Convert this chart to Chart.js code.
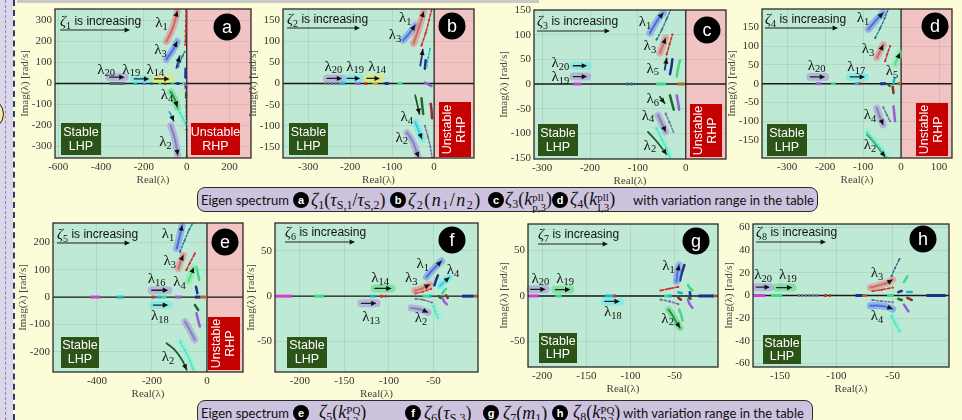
<!DOCTYPE html>
<html>
<head>
<meta charset="utf-8">
<script src="https://cdn.jsdelivr.net/npm/chart.js"></script>
<style>
  body { margin: 0; background: #fdfcd8; }
  #wrap { position: relative; width: 962px; height: 420px; overflow: hidden; background: #fdfcd8; }
  .pn { position: absolute; }
  .cap { position: absolute; background: #cdc3df; border: 1.5px solid #2b2b2b; border-radius: 8px; box-sizing: border-box; }
  .cap > span { position: absolute; top: 50%; transform: translateY(-50%); white-space: nowrap; }
  .t { font-family: Lato, "Noto Sans", sans-serif; font-size: 13px; color: #111; }
  .m { font-family: "Liberation Serif", serif; font-size: 18px; color: #111; }
  .m sub { font-size: 12px; vertical-align: -3px; line-height: 0; }
  .ss { display: inline-block; vertical-align: -6px; font-size: 11px; line-height: 10px; }
  .ss b { display: block; font-weight: normal; }
  .bd { width: 16px; height: 16px; border-radius: 50%; background: #000; color: #fff; font: bold 11px "Liberation Sans", sans-serif; text-align: center; line-height: 16px; }
</style>
</head>
<body>
<div id="wrap">
  <div style="position:absolute;left:0;top:0;width:13px;height:420px;background:#dcd6ea"></div>
  <div style="position:absolute;left:13px;top:0;width:0;height:420px;border-left:2px dashed #2c3a6a"></div>
  <div style="position:absolute;left:5px;top:0;width:0;height:420px;border-left:1px dashed #8088aa"></div>
  <div style="position:absolute;left:-28px;top:98px;width:30px;height:30px;border-radius:50%;background:#fbe7a4;border:1px solid #222"></div>
  <div style="position:absolute;left:17px;top:0;width:522px;height:3px;background:#c9c9c9"></div>

  <div class="cap" style="left:197px;top:187px;width:621px;height:25px">
    <span class="t" style="left:3px">Eigen spectrum</span>
    <span class="bd" style="left:95px">a</span>
    <span class="m" style="left:113px"><i>ζ</i><sub>1</sub>(<i>τ</i><sub>S,1</sub>/<i>τ</i><sub>S,2</sub>)</span>
    <span class="bd" style="left:192px">b</span>
    <span class="m" style="left:210px;letter-spacing:1.5px"><i>ζ</i><sub>2</sub>(<i>n</i><sub>1</sub>/<i>n</i><sub>2</sub>)</span>
    <span class="bd" style="left:290px">c</span>
    <span class="m" style="left:307px"><i>ζ</i><sub>3</sub>(<i>k</i><span class="ss"><b>pll</b><b>p,3</b></span>)</span>
    <span class="bd" style="left:354px">d</span>
    <span class="m" style="left:372px"><i>ζ</i><sub>4</sub>(<i>k</i><span class="ss"><b>pll</b><b>I,3</b></span>)</span>
    <span class="t" style="left:435px">with variation range in the table</span>
  </div>

  <div class="cap" style="left:197px;top:400px;width:616px;height:26px">
    <span class="t" style="left:3px">Eigen spectrum</span>
    <span class="bd" style="left:95px">e</span>
    <span class="m" style="left:121px"><i>ζ</i><sub>5</sub>(<i>k</i><span class="ss"><b>PQ</b><b>I,3</b></span>)</span>
    <span class="bd" style="left:207px">f</span>
    <span class="m" style="left:226px"><i>ζ</i><sub>6</sub>(<i>τ</i><sub>S,3</sub>)</span>
    <span class="bd" style="left:285px">g</span>
    <span class="m" style="left:305px"><i>ζ</i><sub>7</sub>(<i>m</i><sub>1</sub>)</span>
    <span class="bd" style="left:354px">h</span>
    <span class="m" style="left:375px"><i>ζ</i><sub>8</sub>(<i>k</i><span class="ss"><b>PQ</b><b>P,3</b></span>)</span>
    <span class="t" style="left:425px">with variation range in the table</span>
  </div>
</div>

<script>
// tick values of each panel
const xTicksA = [-600,-400,-200,0,200],  yTicksA = [-300,-200,-100,0,100,200,300];
const xTicksB = [-300,-200,-100,0],      yTicksB = [-150,-100,-50,0,50,100,150];
const xTicksC = [-300,-200,-100,0],      yTicksC = [-150,-100,-50,0,50,100,150];
const xTicksD = [-300,-200,-100,0,100],  yTicksD = [-150,-100,-50,0,50,100,150];
const xTicksE = [-400,-200,0],           yTicksE = [-200,-100,0,100,200];
const xTicksF = [-200,-150,-100,-50],    yTicksF = [-50,0,50];
const xTicksG = [-200,-150,-100,-50],    yTicksG = [-50,0,50];
const xTicksH = [-150,-100,-50],         yTicksH = [-60,-40,-20,0,20,40,60];

// eigenvalue traces, [Real(λ), Imag(λ)] per point, one sub-array per trace
const segA = [
  [[-95,200],[-78,235],[-60,280],[-44,345]],
  [[-3,352],[-4,300],[-5,250],[-7,185]],
  [[-95,115],[-78,140],[-60,168],[-44,200]],
  [[-40,80],[-30,105],[-20,130],[-10,150]],
  [[-48,75],[-40,105],[-33,130]],
  [[-6,28],[-5,70]],
  [[-2,-15],[-2,-110],[-1,-220],[0,-345]],
  [[-75,-40],[-62,-62],[-52,-85],[-44,-112]],
  [[-82,-135],[-72,-152],[-60,-180]],
  [[-42,-120],[-30,-142],[-18,-165],[-6,-192]],
  [[-75,-200],[-62,-240],[-50,-290],[-42,-342]],
  [[-6,-5],[-6,-22]],
  [[-3,-45],[-3,-65]]
];
const segAStyle = ['br','rd','bl','te','nvA','nv','kd','dgG','cyA','gnd','lvG','pu','dk'];
// eigenvalues sitting on the real axis: [from, to]
const axisA = [[-360,-290],[-248,-232],[-205,-190],[-168,-155],[-132,-120],[-105,-95],[-72,-60],[-48,-35],[-22,-10]];
const axisAStyle = ['gy','cy','pu','te','gn','dk','gn','nv','gn'];

const segB = [
  [[-49,94],[-40,120],[-32,145],[-25,170]],
  [[-30,90],[-20,120],[-12,150],[-5,178]],
  [[-74,102],[-62,115],[-52,128],[-45,138]],
  [[-18,40],[-14,60],[-10,82]],
  [[-33,42],[-30,60],[-27,80]],
  [[-22,35],[-20,55]],
  [[-45,-28],[-40,-50],[-35,-72]],
  [[-30,-35],[-28,-55],[-26,-72]],
  [[-8,-48],[-6,-65],[-5,-82]],
  [[-45,-92],[-38,-108],[-29,-131]],
  [[-65,-116],[-52,-135],[-44,-155],[-37,-175]],
  [[-22,-100],[-15,-125],[-9,-150],[-5,-175]],
  [[-22,2],[-6,-6]]
];
const segBStyle = ['br','rd','bl','cd','nvA','nv','dkA','dk','bn','cyG','lvG','ld','pu'];
const axisB = [[-262,-226],[-226,-212],[-188,-176],[-166,-155],[-147,-134],[-118,-108],[-88,-75]];
const axisBStyle = ['gyd','cy','pu','rd','ol2','nv','gn'];

const segC = [
  [[-75,103],[-65,120],[-55,135],[-47,144]],
  [[-61,90],[-50,110],[-40,132],[-30,154]],
  [[-54,63],[-48,78],[-42,93]],
  [[-40,60],[-34,80],[-28,100]],
  [[-44,29],[-42,40],[-40,52]],
  [[-33,20],[-30,35],[-28,50]],
  [[-19,15],[-16,32],[-12,48]],
  [[-54,-26],[-49,-33],[-44,-39]],
  [[-33,-23],[-29,-38],[-25,-52]],
  [[-19,-23],[-16,-38],[-14,-52]],
  [[-58,-63],[-50,-80],[-42,-97]],
  [[-42,-60],[-34,-78],[-26,-97]],
  [[-61,-90],[-50,-112],[-40,-132],[-33,-148]],
  [[-79,-97],[-62,-115],[-48,-132],[-40,-143]]
];
const segCStyle = ['bl','te','br','rd','nvA','nv','gn','dkA','dk','pu','lvG','ld','gnd','dkA'];
const axisC = [[-235,-218],[-124,-106],[-62,-41],[-17,-2]];
const axisCStyle = ['mg','te','gn','or'];

const segD = [
  [[-86,145],[-72,162],[-58,178],[-47,189]],
  [[-68,122],[-55,148],[-43,175],[-33,200]],
  [[-64,69],[-56,85],[-47,104]],
  [[-42,60],[-36,80],[-29,100]],
  [[-16,51],[-10,66],[-3,82]],
  [[-20,2],[-17,15]],
  [[-64,-65],[-56,-88],[-47,-110]],
  [[-47,-63],[-38,-82],[-29,-100]],
  [[-20,-60],[-18,-80],[-16,-100]],
  [[-90,-128],[-72,-150],[-52,-175],[-38,-195]],
  [[-90,-135],[-70,-158],[-55,-178],[-42,-195]],
  [[-33,-3],[-30,-6]],
  [[-22,-8],[-20,-25]]
];
const segDStyle = ['bl','te','br','rd','gnG','cy','lvG','ld','pu','gnd','dkA','dk','bn'];
const axisD = [[-225,-210],[-185,-172],[-122,-112],[-112,-104],[-55,-40],[-10,0]];
const axisDStyle = ['pu','gn','cy','rd','nv','or'];

const segE = [
  [[-110,177],[-102,210],[-95,240],[-90,262]],
  [[-98,165],[-82,205],[-65,245],[-50,272]],
  [[-104,104],[-96,130],[-86,153]],
  [[-75,98],[-62,125],[-44,159]],
  [[-68,56],[-58,82],[-48,108]],
  [[-38,110],[-33,85],[-28,62]],
  [[-40,38],[-37,25],[-35,14]],
  [[-44,-29],[-38,-38],[-32,-47]],
  [[-38,-59],[-32,-85],[-26,-107]],
  [[-80,-89],[-65,-115],[-44,-156]],
  [[-147,-168],[-115,-195],[-90,-230],[-74,-265]],
  [[-98,-163],[-80,-195],[-62,-232],[-50,-265]]
];
const segEStyle = ['bl','te','br','rd','gnG','gn','nv','dk','pu','lv','dkA','gnd'];
const axisE = [[-425,-389],[-328,-304],[-201,-183],[-183,-165],[-165,-147],[-116,-92],[-44,-25],[-25,0]];
const axisEStyle = ['mg','cy','rd','cy','gn','pu','nv','or'];

const segF = [
  [[-58,21],[-52,28],[-46,34],[-41,39]],
  [[-49,12],[-47,18],[-45,23]],
  [[-71,6],[-64,8],[-58,11],[-54,13]],
  [[-70,3],[-62,5],[-53,8]],
  [[-43,11],[-38,16],[-32,21]],
  [[-40,3],[-38,6],[-36,8]],
  [[-75,-13],[-68,-14],[-61,-16],[-56,-18]],
  [[-70,-3],[-62,-4],[-52,-7]],
  [[-50,-11],[-48,-17],[-45,-24]],
  [[-40,-2],[-38,-6],[-35,-9]],
  [[-44,0],[-42,-2]],
  [[-36,1],[-34,-2]]
];
const segFStyle = ['bl','nv','br','rd','cyG','gn','lvG','ld','gnd','pu','dk','bn'];
const axisF = [[-228,-209],[-184,-173],[-121,-116],[-110,-103],[-62,-55],[-55,-52],[-18,-5],[-5,-1]];
const axisFStyle = ['mg','gn','cy','rd','gn','cy','nv','or'];

const segG = [
  [[-48,16],[-47,25],[-45,34]],
  [[-44,17],[-42,25],[-39,34]],
  [[-57,-15],[-52,-22],[-48,-29],[-44,-35]],
  [[-45,-15],[-43,-20],[-41,-27]],
  [[-66,6],[-56,8],[-46,10]],
  [[-66,-4],[-56,-6],[-46,-9]],
  [[-46,4],[-42,3]],
  [[-46,-2],[-43,-4]],
  [[-35,12],[-33,9],[-30,6]],
  [[-35,-4],[-33,-9],[-30,-13]],
  [[-33,4],[-32,0]],
  [[-34,-2],[-32,-3]]
];
const segGStyle = ['bl','nv','dgG','gn','rd','ld','cy','bn','gn','pu','nv','dk'];
const axisG = [[-215,-204],[-185,-178],[-129,-120],[-120,-115],[-62,-57],[-57,-53],[-23,-6],[-8,-3]];
const axisGStyle = ['mg','gn','cy','rd','gn','cy','nv','or'];

const segH = [
  [[-70,7],[-62,9],[-55,11],[-50,14]],
  [[-68,4],[-60,5],[-50,7]],
  [[-70,-9],[-62,-9],[-55,-10],[-50,-12]],
  [[-68,-4],[-60,-5],[-50,-6]],
  [[-51,17],[-48,24],[-44,32]],
  [[-40,12],[-38,15],[-37,17]],
  [[-51,-18],[-48,-24],[-44,-31]],
  [[-40,-8],[-38,-11],[-36,-14]],
  [[-45,3],[-42,4]],
  [[-45,-3],[-42,-4]],
  [[-37,3],[-33,3]],
  [[-37,-2],[-33,-4]]
];
const segHStyle = ['br','rd','bl','ld','te','gn','gnd','pu','nv','dk','cy','bn'];
const axisH = [[-174,-163],[-158,-148],[-134,-115],[-111,-105],[-83,-77],[-79,-73],[-55,-49],[-20,-3],[-13,-6]];
const axisHStyle = ['mg','gn','gyd','rd','nv','or','gn','nv','or'];

// line styles for the traces
const STY = {
  br:  {c:'#a6524e', g:'rgba(236,125,125,0.55)', w:2, a:true},
  rd:  {c:'#d32f2f', d:[3,2], w:1.6, p:1.1},
  bl:  {c:'#3a56c9', g:'rgba(100,130,245,0.5)', w:2, a:true},
  te:  {c:'#23708f', d:[2,2], w:1.4, p:1.1},
  cd:  {c:'#20bcd0', d:[2,2], w:1.5, p:1},
  nv:  {c:'#1c2f94', w:2.5},
  nvA: {c:'#1c2f94', w:1.8, a:true},
  dk:  {c:'#1f6b2a', w:2.5},
  dkA: {c:'#1b5e20', w:1.8, a:true},
  dgG: {c:'#1b5e20', g:'rgba(60,215,110,0.45)', w:2, a:true},
  cy:  {c:'#18b8c8', w:2.5},
  cyA: {c:'#18a9bd', w:1.6, a:true},
  cyG: {c:'#18a9bd', g:'rgba(90,235,245,0.55)', w:2, a:true},
  gn:  {c:'#3ddc84', w:2.5},
  gnG: {c:'#2fcf70', g:'rgba(120,240,150,0.5)', w:2, a:true},
  gnd: {c:'#30d9a0', g:'rgba(120,245,220,0.4)', d:[2,2], w:1.6, p:1.1},
  lvG: {c:'#58588c', g:'rgba(170,150,220,0.6)', w:2, a:true},
  lv:  {c:'#58588c', g:'rgba(170,150,220,0.6)', w:2},
  ld:  {c:'#7070a8', d:[2,2], w:1.5, p:1.1},
  pu:  {c:'#9b5bd8', w:2.5},
  mg:  {c:'#d23fd6', w:3},
  or:  {c:'#b06a2a', w:3},
  gy:  {c:'#5f5f6f', w:3},
  gyd: {c:'#7a7a8a', d:[2,1.5], w:2.5},
  bn:  {c:'#8b2e2e', w:2.5},
  kd:  {c:'#333333', d:[1.5,2], w:1.3, p:1},
  ol:  {c:'#7d7d1a', g:'rgba(240,230,80,0.6)', w:2},
  ol2: {c:'#b8a830', w:3}
};

const SERIF = '"Liberation Serif", "DejaVu Serif", serif';
const SANS = '"Liberation Sans", Arial, sans-serif';
const GREEN = '#bee9d4';
const PINK = '#f1c3c3';

// panel layout: chart area box on the page, axis ranges and decorations
const panels = [
  {k:'a', box:[55,9,251,158], x:[-615,300], y:[-355,355], xt:xTicksA, yt:yTicksA, yw:40, rhp:true,
   seg:segA, sty:segAStyle, ax:axisA, axs:axisAStyle,
   zeta:[5,13], zarr:[5,21,75], badge:[172,18], stable:[6,114,40,32], unstable:[136,114,49,32,false],
   labels:[['1',-118,286],['3',-122,157],['20',-376,66],['19',-259,66],['14',-146,66],['4',-92,-57],['2',-99,-281]],
   arrows:[[-360,30,-290,30,'lv'],[-245,22,-175,22,'cyG'],[-150,22,-80,22,'ol']]},
  {k:'b', box:[283,9,474,158], x:[-360,95], y:[-176,176], xt:xTicksB, yt:yTicksB, yw:40, rhp:true,
   seg:segB, sty:segBStyle, ax:axisB, axs:axisBStyle,
   zeta:[4,11], zarr:[4,19,77], badge:[169,17], stable:[6,114,39,32], unstable:[156,93,32,55,true],
   labels:[['20',-240,40],['19',-188,40],['14',-136,40],['1',-69,155],['3',-93,114],['4',-65,-80],['2',-77,-128]],
   arrows:[[-255,12,-219,12,'lv'],[-207,12,-176,12,'cyG'],[-160,12,-129,12,'ol']]},
  {k:'c', box:[534,10,726,159], x:[-317,84], y:[-152,150], xt:xTicksC, yt:yTicksC, yw:40, rhp:true,
   seg:segC, sty:segCStyle, ax:axisC, axs:axisCStyle,
   zeta:[3,12], zarr:[3,21,76], badge:[173,20], stable:[4,114,40,32], unstable:[156,94,32,53,true],
   labels:[['1',-85,125],['3',-75,76],['5',-69,31],['20',-262,42],['19',-262,14],['6',-69,-30],['4',-79,-64],['2',-75,-125]],
   arrows:[[-235,37,-206,37,'cyG'],[-235,15,-206,15,'lv']]},
  {k:'d', box:[762,9,952,158], x:[-366,134], y:[-198,199], xt:xTicksD, yt:yTicksD, yw:40, rhp:true,
   seg:segD, sty:segDStyle, ax:axisD, axs:axisDStyle,
   zeta:[3,11], zarr:[3,19,76], badge:[173,17], stable:[5,115,40,32], unstable:[154,94,32,53,true],
   labels:[['1',-100,175],['3',-87,91],['5',-24,33],['20',-222,48],['17',-118,45],['4',-82,-83],['2',-82,-163]],
   arrows:[[-239,18,-200,18,'lv'],[-134,18,-95,18,'cyG']]},
  {k:'e', box:[53,223,243,372], x:[-560,131], y:[-273,270], xt:xTicksE, yt:yTicksE, yw:40, rhp:true,
   seg:segE, sty:segEStyle, ax:axisE, axs:axisEStyle,
   zeta:[4,12], zarr:[4,20,77], badge:[172,19], stable:[8,114,38,31], unstable:[155,94,32,53,true],
   labels:[['1',-142,228],['3',-135,130],['4',-100,55],['16',-183,65],['18',-171,-70],['2',-142,-220]],
   arrows:[[-201,25,-141,25,'lv'],[-195,-29,-141,-29,'cyG']]},
  {k:'f', box:[275,223,478,372], x:[-228,0], y:[-84,81], xt:xTicksF, yt:yTicksF, yw:34, rhp:false,
   seg:segF, sty:segFStyle, ax:axisF, axs:axisFStyle,
   zeta:[10,10], zarr:[10,19,80], badge:[177,17], stable:[12,114,40,31],
   labels:[['1',-62,35],['3',-75,20],['4',-28,29],['2',-64,-24],['14',-110,20],['13',-120,-23]],
   arrows:[[-116,8.5,-97,8.5,'dgG'],[-131,-8,-114,-8,'lv']]},
  {k:'g', box:[528,224,718,367], x:[-216,-1], y:[-78,79], xt:xTicksG, yt:yTicksG, yw:34, rhp:false,
   seg:segG, sty:segGStyle, ax:axisG, axs:axisGStyle,
   zeta:[10,11], zarr:[10,20,80], badge:[168,17], stable:[11,109,38,30],
   labels:[['20',-202,19],['19',-174,19],['18',-120,-18],['1',-57,33],['2',-58,-25]],
   arrows:[[-213,7.3,-196,7.3,'lv'],[-185,7,-168,7,'dgG'],[-129,-6,-112,-6,'cyG']]},
  {k:'h', box:[753,224,949,367], x:[-174,0], y:[-63,63], xt:xTicksH, yt:yTicksH, yw:34, rhp:false,
   seg:segH, sty:segHStyle, ax:axisH, axs:axisHStyle,
   zeta:[3,9], zarr:[3,18,73], badge:[170,15], stable:[10,111,38,29],
   labels:[['20',-165,18],['19',-143,18],['3',-64,20],['4',-64,-18]],
   arrows:[[-171,7.3,-159,7.3,'lv'],[-153,7,-139,7,'dgG']]}
];

const ZETA_SUB = {a:'1',b:'2',c:'3',d:'4',e:'5',f:'6',g:'7',h:'8'};

function head(ctx, x1, y1, x2, y2, size, color) {
  const ang = Math.atan2(y2 - y1, x2 - x1);
  ctx.fillStyle = color;
  ctx.beginPath();
  ctx.moveTo(x2, y2);
  ctx.lineTo(x2 - size * Math.cos(ang - 0.45), y2 - size * Math.sin(ang - 0.45));
  ctx.lineTo(x2 - size * Math.cos(ang + 0.45), y2 - size * Math.sin(ang + 0.45));
  ctx.closePath();
  ctx.fill();
}

function lamLabel(ctx, sub, x, y) {
  ctx.textBaseline = 'middle';
  ctx.textAlign = 'left';
  ctx.font = '15px ' + SERIF;
  const w1 = ctx.measureText('λ').width;
  ctx.font = '10.5px ' + SERIF;
  const w2 = ctx.measureText(sub).width;
  const sx = x - (w1 + w2) / 2;
  ctx.fillStyle = '#111';
  ctx.font = '15px ' + SERIF;
  ctx.fillText('λ', sx, y);
  ctx.font = '10.5px ' + SERIF;
  ctx.fillText(sub, sx + w1, y + 4);
}

function decoPlugin(p) {
  return {
    id: 'deco' + p.k,
    beforeDraw(chart) {
      const {ctx, chartArea: a, scales: {x}} = chart;
      ctx.save();
      ctx.fillStyle = GREEN;
      ctx.fillRect(a.left, a.top, a.width, a.height);
      if (p.rhp) {
        const x0 = x.getPixelForValue(0);
        ctx.fillStyle = PINK;
        ctx.fillRect(x0, a.top, a.right - x0, a.height);
      }
      ctx.restore();
    },
    beforeDatasetsDraw(chart) {
      const {ctx, chartArea: a, scales: {x, y}} = chart;
      ctx.save();
      ctx.strokeStyle = '#1a1a1a';
      ctx.lineWidth = 1.4;
      const y0 = y.getPixelForValue(0);
      ctx.beginPath(); ctx.moveTo(a.left, y0); ctx.lineTo(a.right, y0); ctx.stroke();
      if (p.rhp) {
        const x0 = x.getPixelForValue(0);
        ctx.lineWidth = 1.2;
        ctx.beginPath(); ctx.moveTo(x0, a.top); ctx.lineTo(x0, a.bottom); ctx.stroke();
      }
      ctx.restore();
    },
    afterDatasetsDraw(chart) {
      const {ctx, chartArea: a, scales: {x, y}} = chart;
      const L = a.left, T = a.top;
      ctx.save();
      ctx.lineCap = 'round';
      // arrow heads at the end of marked traces
      p.seg.forEach((s, i) => {
        const st = STY[p.sty[i]];
        if (!st.a) return;
        const q = s[s.length - 2], r = s[s.length - 1];
        head(ctx, x.getPixelForValue(q[0]), y.getPixelForValue(q[1]),
             x.getPixelForValue(r[0]), y.getPixelForValue(r[1]), 6, '#111');
      });
      // direction arrows of the real eigenvalues
      p.arrows.forEach(([x1, y1, x2, y2, k]) => {
        const st = STY[k];
        const px1 = x.getPixelForValue(x1), py1 = y.getPixelForValue(y1);
        const px2 = x.getPixelForValue(x2), py2 = y.getPixelForValue(y2);
        if (st.g) {
          ctx.strokeStyle = st.g; ctx.lineWidth = 8;
          ctx.beginPath(); ctx.moveTo(px1, py1); ctx.lineTo(px2, py2); ctx.stroke();
        }
        ctx.strokeStyle = '#222'; ctx.lineWidth = 1.3;
        ctx.beginPath(); ctx.moveTo(px1, py1); ctx.lineTo(px2 - 4, py2); ctx.stroke();
        head(ctx, px1, py1, px2, py2, 6, '#111');
      });
      p.labels.forEach(([sub, lx, ly]) => lamLabel(ctx, sub, x.getPixelForValue(lx), y.getPixelForValue(ly)));

      // "ζ is increasing" with its arrow
      ctx.textBaseline = 'middle';
      ctx.textAlign = 'left';
      ctx.fillStyle = '#111';
      ctx.font = 'italic 15px ' + SERIF;
      let zx = L + p.zeta[0];
      const zy = T + p.zeta[1];
      ctx.fillText('ζ', zx, zy);
      zx += ctx.measureText('ζ').width;
      ctx.font = '10px ' + SERIF;
      ctx.fillText(ZETA_SUB[p.k], zx, zy + 4);
      zx += ctx.measureText(ZETA_SUB[p.k]).width;
      ctx.font = '12px ' + SANS;
      ctx.fillText(' is increasing', zx, zy);
      ctx.strokeStyle = '#222'; ctx.lineWidth = 1;
      ctx.lineCap = 'butt';
      ctx.beginPath(); ctx.moveTo(L + p.zarr[0], T + p.zarr[1]); ctx.lineTo(L + p.zarr[2] - 4, T + p.zarr[1]); ctx.stroke();
      head(ctx, L + p.zarr[0], T + p.zarr[1], L + p.zarr[2], T + p.zarr[1], 6, '#111');

      // panel badge
      ctx.fillStyle = '#000';
      ctx.beginPath(); ctx.arc(L + p.badge[0], T + p.badge[1], 13.5, 0, Math.PI * 2); ctx.fill();
      ctx.fillStyle = '#fff';
      ctx.textAlign = 'center';
      ctx.font = '18px ' + SANS;
      ctx.fillText(p.k, L + p.badge[0], T + p.badge[1] + 1);

      // stable / unstable half-plane boxes
      const sb = p.stable;
      ctx.fillStyle = '#2c5318';
      ctx.fillRect(L + sb[0], T + sb[1], sb[2], sb[3]);
      ctx.fillStyle = '#fff';
      ctx.font = '12.5px ' + SANS;
      ctx.fillText('Stable', L + sb[0] + sb[2] / 2, T + sb[1] + sb[3] * 0.29);
      ctx.fillText('LHP', L + sb[0] + sb[2] / 2, T + sb[1] + sb[3] * 0.73);
      if (p.unstable) {
        const ub = p.unstable;
        ctx.fillStyle = '#c40000';
        ctx.fillRect(L + ub[0], T + ub[1], ub[2], ub[3]);
        ctx.fillStyle = '#fff';
        if (ub[4]) {
          ctx.save();
          ctx.translate(L + ub[0] + ub[2] / 2, T + ub[1] + ub[3] / 2);
          ctx.rotate(-Math.PI / 2);
          ctx.fillText('Unstable', 0, -7);
          ctx.fillText('RHP', 0, 7);
          ctx.restore();
        } else {
          ctx.fillText('Unstable', L + ub[0] + ub[2] / 2, T + ub[1] + ub[3] * 0.29);
          ctx.fillText('RHP', L + ub[0] + ub[2] / 2, T + ub[1] + ub[3] * 0.73);
        }
      }
      ctx.restore();
    },
    afterDraw(chart) {
      const {ctx, chartArea: a} = chart;
      ctx.save();
      ctx.strokeStyle = '#2a2a2a';
      ctx.lineWidth = 1.3;
      ctx.strokeRect(a.left, a.top, a.width, a.height);
      ctx.restore();
    }
  };
}

function buildDatasets(p) {
  const ds = [];
  p.seg.forEach((s, i) => {
    const st = STY[p.sty[i]];
    const data = s.map(([x, y]) => ({x, y}));
    if (st.g) {
      ds.push({data, showLine: true, tension: 0.4, borderColor: st.g, borderWidth: 7,
               borderCapStyle: 'round', pointRadius: 0});
    }
    ds.push({data, showLine: true, tension: 0.4, borderColor: st.c, borderWidth: st.w,
             borderDash: st.d || [], borderCapStyle: 'round', pointRadius: st.p || 0,
             pointBackgroundColor: st.c, pointBorderWidth: 0});
  });
  p.ax.forEach((r, i) => {
    const st = STY[p.axs[i]];
    ds.push({data: [{x: r[0], y: 0}, {x: r[1], y: 0}], showLine: true, borderColor: st.c,
             borderWidth: Math.max(st.w, 3), borderDash: st.d || [], pointRadius: 0});
  });
  return ds;
}

const wrap = document.getElementById('wrap');
const XH = 32, PADT = 4, PADR = 4;

panels.forEach(p => {
  const [L, T, R, B] = p.box;
  const W = R - L + p.yw + PADR, H = B - T + PADT + XH;
  const div = document.createElement('div');
  div.className = 'pn';
  div.style.cssText = `left:${L - p.yw}px;top:${T - PADT}px;width:${W}px;height:${H}px`;
  const cv = document.createElement('canvas');
  cv.width = W; cv.height = H;
  cv.style.width = W + 'px'; cv.style.height = H + 'px';
  div.appendChild(cv);
  wrap.appendChild(div);

  const tickFont = {family: SERIF, size: 11};
  new Chart(cv, {
    type: 'scatter',
    data: {datasets: buildDatasets(p)},
    options: {
      responsive: false,
      animation: false,
      layout: {padding: {left: 0, top: PADT, right: PADR, bottom: 0}},
      plugins: {legend: {display: false}, tooltip: {enabled: false}},
      scales: {
        x: {
          type: 'linear', min: p.x[0], max: p.x[1],
          afterBuildTicks(s) { s.ticks = p.xt.map(v => ({value: v})); },
          ticks: {font: tickFont, color: '#333', padding: 3, maxRotation: 0, autoSkip: false},
          grid: {color: 'rgba(0,0,0,0.07)', drawTicks: false},
          border: {display: false},
          title: {display: true, text: 'Real(λ)', font: tickFont, color: '#444', padding: {top: 0, bottom: 3}},
          afterFit(s) { s.height = XH; s.paddingLeft = 0; s.paddingRight = 0; }
        },
        y: {
          type: 'linear', min: p.y[0], max: p.y[1],
          afterBuildTicks(s) { s.ticks = p.yt.map(v => ({value: v})); },
          ticks: {font: tickFont, color: '#333', padding: 3, autoSkip: false},
          grid: {color: 'rgba(0,0,0,0.07)', drawTicks: false},
          border: {display: false},
          title: {display: true, text: 'Imag(λ) [rad/s]', font: tickFont, color: '#444', padding: {top: 4, bottom: 0}},
          afterFit(s) { s.width = p.yw; s.paddingTop = 0; s.paddingBottom = 0; }
        }
      }
    },
    plugins: [decoPlugin(p)]
  });
});
</script>
</body>
</html>
